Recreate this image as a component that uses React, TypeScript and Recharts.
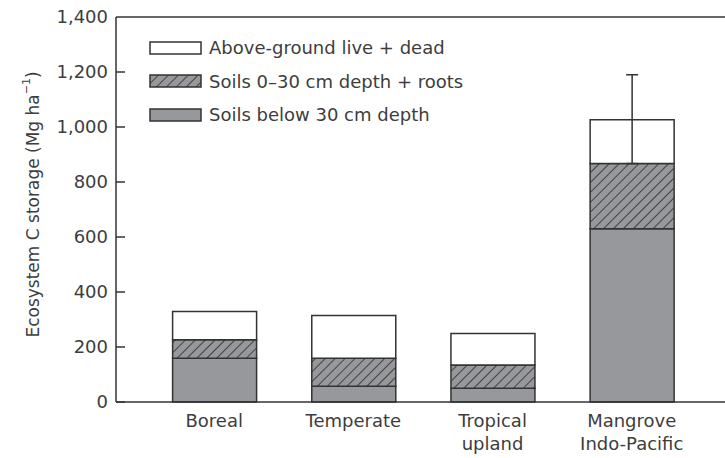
import React from "react"
import {
  BarChart,
  Bar,
  XAxis,
  YAxis,
  Legend,
  ErrorBar,
  Label,
} from "recharts"

const categories = ["Boreal", "Temperate", "Tropical\nupland", "Mangrove\nIndo-Pacific"]
const soilsBelow30 = [159, 57, 50, 630]
const soils0to30 = [67, 102, 85, 237]
const aboveGround = [103, 156, 114, 159]
// error on the total: [below, above]
const totalError: ([number, number] | null)[] = [null, null, null, [159, 164]]
const yTicks = [0, 200, 400, 600, 800, 1000, 1200, 1400]

const GRAY = "#97989c"
const INK = "#333333"
const TEXT = "#3d3d3d"
const FONT = "'DejaVu Sans', sans-serif"
const CHART_W = 725
const AXIS_W = 116

const data = categories.map((name, i) => ({
  name,
  below: soilsBelow30[i],
  top30: soils0to30[i],
  above: aboveGround[i],
  err: totalError[i],
}))

const legendItems = [
  { label: "Above-ground live + dead", fill: "#ffffff" },
  { label: "Soils 0\u201330 cm depth + roots", fill: "url(#hatch)" },
  { label: "Soils below 30 cm depth", fill: GRAY },
]

function LegendBox() {
  return (
    <div style={{ fontFamily: FONT, fontSize: 18, color: TEXT }}>
      {legendItems.map((item) => (
        <div key={item.label} style={{ display: "flex", alignItems: "center", height: 33.5 }}>
          <svg width={53} height={14} style={{ display: "block" }}>
            <rect x={1} y={1} width={51} height={12} fill={item.fill} stroke={INK} strokeWidth={1.5} />
          </svg>
          <span style={{ marginLeft: 7, whiteSpace: "nowrap" }}>{item.label}</span>
        </div>
      ))}
    </div>
  )
}

// inward tick marks; the top tick doubles as the upper frame line
function YTick(props: any) {
  const { x, y, payload } = props
  const isTop = payload.value === yTicks[yTicks.length - 1]
  const end = isTop ? x + 8 + (CHART_W - AXIS_W) : x + 17
  return (
    <g>
      <line x1={x + 8} x2={end} y1={y} y2={y} stroke={INK} strokeWidth={1.5} />
      <text x={x} y={y} dy="0.36em" textAnchor="end" fill={TEXT} fontSize={18} fontFamily={FONT}>
        {payload.value.toLocaleString("en-US")}
      </text>
    </g>
  )
}

function XTick(props: any) {
  const { x, y, payload } = props
  const lines = String(payload.value).split("\n")
  return (
    <text x={x} y={y} textAnchor="middle" fill={TEXT} fontSize={18} fontFamily={FONT}>
      {lines.map((l, i) => (
        <tspan key={i} x={x} dy={i === 0 ? 25 : 23}>
          {l}
        </tspan>
      ))}
    </text>
  )
}

function YLabel(props: any) {
  const { viewBox } = props
  const cx = 33
  const cy = viewBox.y + viewBox.height / 2 - 5
  return (
    <text
      x={cx}
      y={cy}
      transform={`rotate(-90 ${cx} ${cy})`}
      textAnchor="middle"
      dominantBaseline="central"
      fill={TEXT}
      fontSize={17}
      fontFamily={FONT}
    >
      Ecosystem C storage (Mg ha
      <tspan baselineShift="super" fontSize={11}>
        {"\u22121"}
      </tspan>
      )
    </text>
  )
}

export default function App() {
  return (
    <div style={{ position: "absolute", left: 0, top: 0, width: CHART_W, height: 458, background: "#fff" }}>
      <BarChart
        width={CHART_W}
        height={458}
        data={data}
        margin={{ top: 17, right: 0, bottom: 0, left: 0 }}
        barSize={84}
      >
        <defs>
          <pattern id="hatch" patternUnits="userSpaceOnUse" width={7} height={7} patternTransform="rotate(45)">
            <rect x={0} y={0} width={7} height={7} fill={GRAY} />
            <line x1={0} y1={0} x2={0} y2={7} stroke="#2a2a2a" strokeWidth={1.6} />
          </pattern>
        </defs>
        <XAxis
          dataKey="name"
          height={56}
          padding={{ left: 28.6, right: 23.7 }}
          tickLine={false}
          tickSize={0}
          tickMargin={0}
          axisLine={{ stroke: INK, strokeWidth: 1.5 }}
          tick={<XTick />}
          interval={0}
        />
        <YAxis
          width={AXIS_W}
          domain={[0, 1400]}
          ticks={yTicks}
          tickLine={false}
          tickSize={0}
          tickMargin={8}
          axisLine={{ stroke: INK, strokeWidth: 1.5 }}
          tick={<YTick />}
        >
          <Label content={<YLabel />} />
        </YAxis>
        <Legend
          layout="vertical"
          align="center"
          verticalAlign="middle"
          wrapperStyle={{ top: 31, left: 149, width: 320 }}
          content={<LegendBox />}
        />
        <Bar dataKey="below" stackId="a" fill={GRAY} stroke={INK} strokeWidth={1.5} isAnimationActive={false} />
        <Bar dataKey="top30" stackId="a" fill="url(#hatch)" stroke={INK} strokeWidth={1.5} isAnimationActive={false} />
        <Bar dataKey="above" stackId="a" fill="#ffffff" stroke={INK} strokeWidth={1.5} isAnimationActive={false}>
          <ErrorBar dataKey="err" width={6} stroke={INK} strokeWidth={1.5} direction="y" />
        </Bar>
      </BarChart>
    </div>
  )
}
